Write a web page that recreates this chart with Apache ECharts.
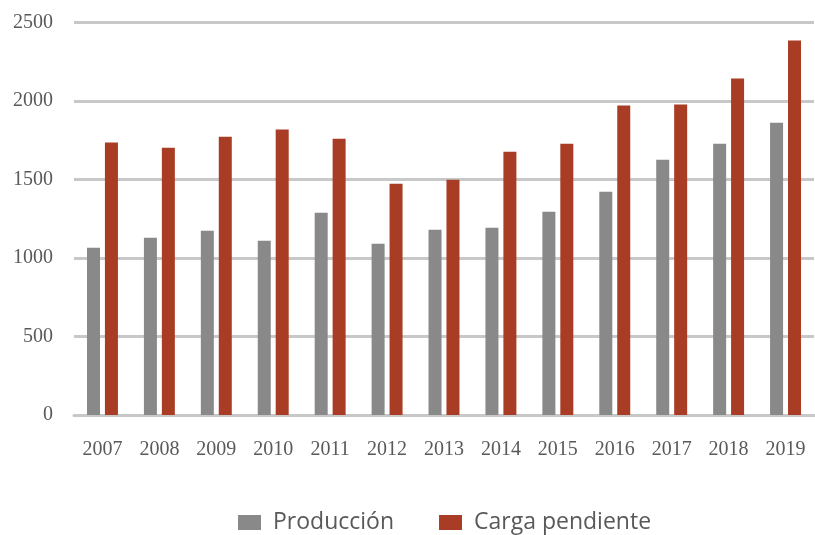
<!DOCTYPE html>
<html><head><meta charset="utf-8">
<script src="https://cdn.jsdelivr.net/npm/echarts@6/dist/echarts.min.js"></script>
<style>html,body{margin:0;padding:0;background:#fff}#c{width:815px;height:535px}</style>
</head><body><div id="c"></div>
<script>
var years = ['2007','2008','2009','2010','2011','2012','2013','2014','2015','2016','2017','2018','2019'];
var produccion = [1065,1129,1174,1110,1288,1091,1180,1193,1295,1422,1626,1728,1862];
var cargaPendiente = [1735,1703,1773,1818,1760,1473,1499,1677,1728,1971,1977,2143,2385];
var yTicks = [0,500,1000,1500,2000,2500];

var chart = echarts.init(document.getElementById('c'));
chart.setOption({
  animation:false,
  grid:{left:74,right:1,top:22.5,bottom:120},
  legend:{
    top:511,left:238,padding:0,itemWidth:23,itemHeight:15,itemGap:45,icon:'rect',
    textStyle:{fontFamily:'Open Sans',fontSize:23,color:'#595959',padding:[0,0,0,7]},
    data:['Producción','Carga pendiente']
  },
  xAxis:{
    type:'category',data:years,
    axisLine:{lineStyle:{color:'#c8c8c8',width:3}},
    axisTick:{show:false},
    axisLabel:{margin:25,fontFamily:'Liberation Serif',fontSize:20,color:'#595959'}
  },
  yAxis:{
    type:'value',min:yTicks[0],max:yTicks[yTicks.length-1],interval:500,
    axisLine:{show:false},axisTick:{show:false},
    splitLine:{lineStyle:{color:'#c8c8c8',width:3}},
    axisLabel:{margin:21,fontFamily:'Liberation Serif',fontSize:20,color:'#595959',formatter:function(v){return String(v);}}
  },
  series:[
    {name:'Producción',type:'bar',data:produccion,barWidth:13,barGap:'38%',itemStyle:{color:'#898989'}},
    {name:'Carga pendiente',type:'bar',data:cargaPendiente,barWidth:13,itemStyle:{color:'#a93c25'}}
  ]
});
</script></body></html>
